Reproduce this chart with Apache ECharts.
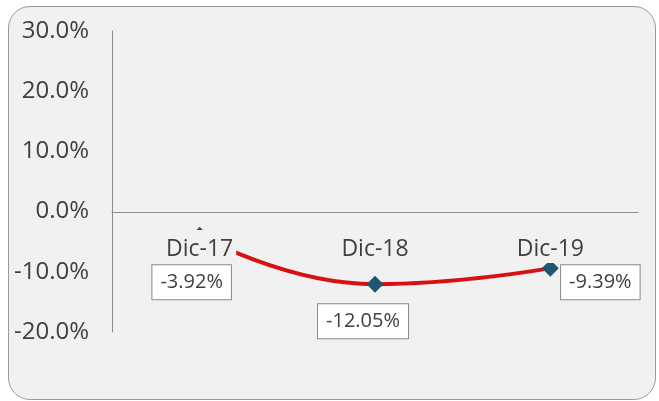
<!DOCTYPE html>
<html>
<head>
<meta charset="utf-8">
<script src="https://cdn.jsdelivr.net/npm/echarts@6/dist/echarts.min.js"></script>
<style>
  html, body { margin: 0; padding: 0; background: #ffffff; }
  #frame {
    position: absolute; left: 8px; top: 6px; width: 646px; height: 392px;
    border: 1.5px solid #9a9a9a; border-radius: 22px; background: #f1f1f1;
  }
  #chart { position: absolute; left: 0; top: 0; width: 659px; height: 401px; }
</style>
</head>
<body>
<div id="frame"></div>
<div id="chart"></div>
<script>
// datos
const categories = ["Dic-17", "Dic-18", "Dic-19"]
const values = [-3.92, -12.05, -9.39]
const yTicks = { min: -20, max: 30, interval: 10 }

// desplazamiento de las etiquetas de datos (px)
const labelOffsets = [[-8, 47], [-12, 37], [50, 14]]

const chart = echarts.init(document.getElementById("chart"))

chart.setOption({
  animation: false,
  backgroundColor: "transparent",
  grid: { left: 112, right: 21, top: 31, bottom: 69 },
  xAxis: {
    type: "category",
    data: categories,
    z: 10,
    // eje horizontal sobre el 0%
    offset: -120,
    axisLine: { onZero: false, lineStyle: { color: "#8c8c8c", width: 1 } },
    axisTick: { show: false },
    axisLabel: {
      margin: 18,
      color: "#404040",
      fontFamily: "Open Sans",
      fontSize: 23,
      backgroundColor: "#f1f1f1",
      padding: [8, 3, 2, 3]
    }
  },
  yAxis: {
    type: "value",
    min: yTicks.min,
    max: yTicks.max,
    interval: yTicks.interval,
    axisLine: { show: true, lineStyle: { color: "#8c8c8c", width: 1 } },
    axisTick: { show: false },
    splitLine: { show: false },
    axisLabel: {
      margin: 23,
      color: "#404040",
      fontFamily: "Open Sans",
      fontSize: 24,
      formatter: v => v.toFixed(1) + "%"
    }
  },
  series: [{
    type: "line",
    smooth: 0.5,
    data: values.map((v, i) => ({
      value: v,
      label: { offset: labelOffsets[i] }
    })),
    symbol: "diamond",
    symbolSize: 17,
    itemStyle: { color: "#1f5670" },
    lineStyle: { color: "#d81010", width: 4 },
    label: {
      show: true,
      position: "inside",
      formatter: p => p.value.toFixed(2) + "%",
      color: "#404040",
      fontFamily: "Open Sans",
      fontSize: 20,
      backgroundColor: "#ffffff",
      borderColor: "#8a8a8a",
      borderWidth: 1,
      padding: [8, 8, 6, 8]
    }
  }]
})
</script>
</body>
</html>
